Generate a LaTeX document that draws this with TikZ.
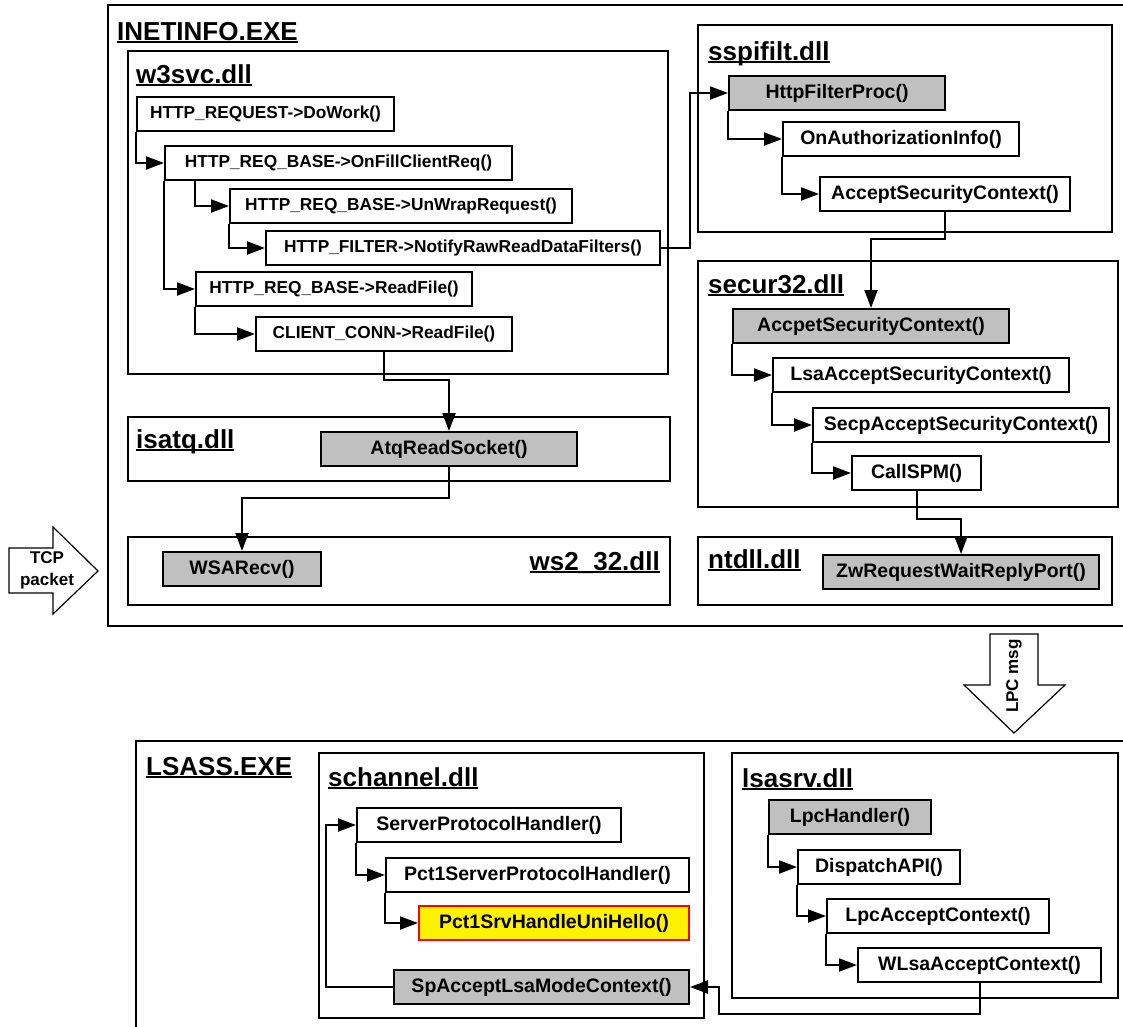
\documentclass[tikz,border=0pt]{standalone}
\usepackage{fontspec}
\setmainfont{Liberation Sans}
\usepackage{tikz}
\usetikzlibrary{arrows.meta}
\usetikzlibrary{calc}
\definecolor{fngray}{RGB}{192,192,192}
\newcommand{\callfont}{\fontsize{19.5}{22}\selectfont\bfseries}
\newcommand{\smallcallfont}{\fontsize{17.3}{20}\selectfont\bfseries}
\newcommand{\titlefont}{\fontsize{26}{30}\selectfont\bfseries}
\newcommand{\modname}[1]{\setbox0\hbox{#1}\rlap{\rule[-3pt]{\wd0}{2pt}}\box0}

\begin{document}
\begin{tikzpicture}[
    x=1pt, y=-1pt,
    frame/.style={line width=2.4pt},
    module/.style={draw, line width=2pt},
    call/.style={draw, line width=2pt, font=\callfont, anchor=north west,
                 minimum height=34pt, inner sep=0pt},
    small call/.style={call, font=\smallcallfont},
    entry/.style={fill=fngray},
    hit/.style={fill=yellow, draw=red},
    title/.style={font=\titlefont, anchor=base west, inner sep=0pt},
    link/.style={line width=2pt, -{Triangle[length=18pt,width=13pt]}},
    bigarrow/.style={line width=1.2pt},
    label text/.style={font=\fontsize{17}{22}\selectfont\bfseries, inner sep=0pt}
    ]
    \useasboundingbox (0,0) rectangle (1123,1026);

    % process frames
    \draw[frame] (1130,5) -| (108,626) -- (1130,626);
    \draw[frame] (1130,741) -| (136,1030);
    \node[title] (inetinfo) at (117,40) {\modname{INETINFO.EXE}};
    \node[title] (lsass) at (146,775) {\modname{LSASS.EXE}};

    % w3svc.dll
    \draw[module] (128,51) rectangle (668,374);
    \node[title] (w3svc) at (136,83) {\modname{w3svc.dll}};
    \node[small call, minimum width=257pt] (dowork) at (136,96) {HTTP\_REQUEST->DoWork()};
    \node[small call, minimum width=347pt] (onfill) at (164,145) {HTTP\_REQ\_BASE->OnFillClientReq()};
    \node[small call, minimum width=342pt] (unwrap) at (229,188) {HTTP\_REQ\_BASE->UnWrapRequest()};
    \node[small call, minimum width=394pt] (notify) at (265,230) {HTTP\_FILTER->NotifyRawReadDataFilters()};
    \node[small call, minimum width=276pt] (readfile) at (195,271) {HTTP\_REQ\_BASE->ReadFile()};
    \node[small call, minimum width=256pt] (clientconn) at (255,316) {CLIENT\_CONN->ReadFile()};

    % isatq.dll, ws2_32.dll
    \draw[module] (128,417) rectangle (670,481);
    \node[title] (isatq) at (136,448) {\modname{isatq.dll}};
    \node[call, entry, minimum width=256pt] (atq) at (320,431) {AtqReadSocket()};
    \draw[module] (128,537) rectangle (670,605);
    \node[title, anchor=base east] (ws2) at (660,570) {\modname{ws2\_32.dll}};
    \node[call, entry, minimum width=158pt] (wsarecv) at (162,551) {WSARecv()};

    % sspifilt.dll
    \draw[module] (698,25) rectangle (1112,232);
    \node[title] (sspifilt) at (708,60) {\modname{sspifilt.dll}};
    \node[call, entry, minimum width=216pt] (filterproc) at (728,75) {HttpFilterProc()};
    \node[call, minimum width=236pt] (onauth) at (782,121) {OnAuthorizationInfo()};
    \node[call, minimum width=250pt] (acceptsc) at (819,176) {AcceptSecurityContext()};

    % secur32.dll
    \draw[module] (698,261) rectangle (1118,507);
    \node[title] (secur32) at (708,293) {\modname{secur32.dll}};
    \node[call, entry, minimum width=276pt] (accpetsc) at (732,308) {AccpetSecurityContext()};
    \node[call, minimum width=296pt] (lsaasc) at (772,357) {LsaAcceptSecurityContext()};
    \node[call, minimum width=296pt] (secpasc) at (812,407) {SecpAcceptSecurityContext()};
    \node[call, minimum width=129pt] (callspm) at (851,455) {CallSPM()};

    % ntdll.dll
    \draw[module] (698,537) rectangle (1112,605);
    \node[title] (ntdll) at (708,568) {\modname{ntdll.dll}};
    \node[call, entry, minimum width=276pt] (zwrequest) at (822,554) {ZwRequestWaitReplyPort()};

    % schannel.dll
    \draw[module] (319,753) rectangle (704,1018);
    \node[title] (schannel) at (328,786) {\modname{schannel.dll}};
    \node[call, minimum width=264pt] (serverph) at (356,807) {ServerProtocolHandler()};
    \node[call, minimum width=303pt] (pct1server) at (385,857) {Pct1ServerProtocolHandler()};
    \node[call, hit, minimum width=270pt] (unihello) at (418,905) {Pct1SrvHandleUniHello()};
    \node[call, entry, minimum width=295pt] (spaccept) at (393,969) {SpAcceptLsaModeContext()};

    % lsasrv.dll
    \draw[module] (732,753) rectangle (1118,998);
    \node[title] (lsasrv) at (742,787) {\modname{lsasrv.dll}};
    \node[call, entry, minimum width=162pt] (lpchandler) at (768,799) {LpcHandler()};
    \node[call, minimum width=162pt] (dispatch) at (797,849) {DispatchAPI()};
    \node[call, minimum width=222pt] (lpcaccept) at (826,898) {LpcAcceptContext()};
    \node[call, minimum width=243pt] (wlsa) at (857,947) {WLsaAcceptContext()};

    % calls inside INETINFO
    \draw[link] (dowork.south west) |- (onfill.west);
    \draw[link] (onfill.south west) |- (readfile.west);
    \draw[link] (readfile.west |- onfill.south) |- (unwrap.west);
    \draw[link] (unwrap.south west) |- (notify.west);
    \draw[link] (readfile.south west) |- (clientconn.west);
    \draw[link] (notify.east) -- ++(29,0) |- (filterproc.west);
    \draw[link] (clientconn.south) -- ++(0,28) -| (atq.north);
    \draw[link] (atq.south) -- ++(0,31) -| (wsarecv.north);
    \draw[link] (filterproc.south west) |- (onauth.west);
    \draw[link] (onauth.south west) |- (acceptsc.west);
    \draw[link] (acceptsc.south) -- ++(0,27) -| (accpetsc.north);
    \draw[link] (accpetsc.south west) |- (lsaasc.west);
    \draw[link] (lsaasc.south west) |- (secpasc.west);
    \draw[link] (secpasc.south west) |- (callspm.west);
    \draw[link] (callspm.south) -- ++(0,28) -| (zwrequest.north);

    % calls inside LSASS
    \draw[link] (lpchandler.south west) |- (dispatch.west);
    \draw[link] (dispatch.south west) |- (lpcaccept.west);
    \draw[link] (lpcaccept.south west) |- (wlsa.west);
    \draw[link] (wlsa.south) -- ++(0,31) -| ($(spaccept.east)+(29,0)$) -- (spaccept.east);
    \draw[link] (spaccept.west) -- ++(-67,0) |- (serverph.west);
    \draw[link] (serverph.south west) |- (pct1server.west);
    \draw[link] (pct1server.south west) |- (unihello.west);

    % block arrows
    \draw[bigarrow] (9,548) -- (53,548) -- (53,527) -- (98,571) -- (53,614) -- (53,593) -- (9,593) -- cycle;
    \node[label text, align=center] (tcp) at (47,570) {TCP\\packet};
    \draw[bigarrow] (990,634) -- (1038,634) -- (1038,685) -- (1065,685) -- (1014,733) -- (964,685) -- (990,685) -- cycle;
    \node[label text, rotate=90] (lpc) at (1014,676) {LPC msg};
\end{tikzpicture}
\end{document}
